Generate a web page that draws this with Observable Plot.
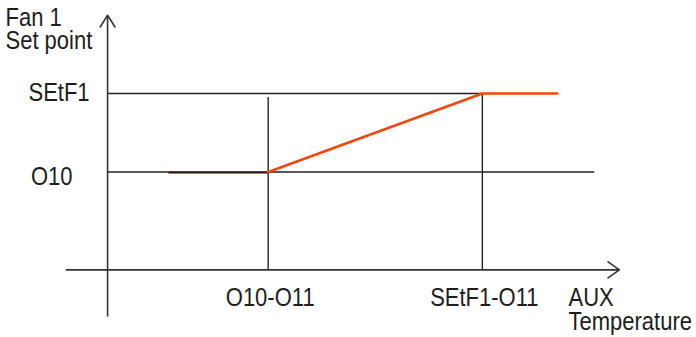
<!DOCTYPE html>
<html>
<head>
<meta charset="utf-8">
<script src="https://cdn.jsdelivr.net/npm/d3@7"></script>
<script src="https://cdn.jsdelivr.net/npm/@observablehq/plot@0.6"></script>
<style>
  html, body { margin: 0; padding: 0; background: #fff; }
  #chart svg { display: block; }
</style>
</head>
<body>
<div id="chart"></div>
<script>
// Tick labels and their positions on the (unitless) axes
const xTickLabels = ["O10-O11", "SEtF1-O11"];
const xTickValues = [3, 7];
const yTickLabels = ["SEtF1", "O10"];
const yTickValues = [9, 5];

// Set-point curve (Fan 1 set point vs AUX temperature)
const curveX = [3, 7, 8.4];
const curveY = [5, 9, 9];
// dark lead-in segment along O10
const leadX = [1.15, 3];
const leadY = [5, 5];

// guide line extents
const o10GuideEnd = 9.1;
const setf1GuideEnd = 7;
const leftGuideTop = 8.8;

const yTitleLines = ["Fan 1", "Set point"];
const xTitleLines = ["AUX", "Temperature"];

const xDomain = [-2, 11];
const yDomain = [-3.45, 13.75];
const xAxisStart = -0.77, xAxisEnd = 9.56;
const yAxisStart = -2.35, yAxisEnd = 13;
const xTitleX = 8.61;

const orange = "#f0480c";
const leadColor = "#3a1206";
const axisColor = "#333";
const guideColor = "#222";
const textColor = "#1e1e1e";
const font = "'Liberation Sans', Arial, sans-serif";
const textStretch = 1.14; // glyphs in the reference are taller than wide

const ticksX = xTickLabels.map((label, i) => ({label, value: xTickValues[i]}));
const ticksY = yTickLabels.map((label, i) => ({label, value: yTickValues[i]}));
const curve = curveX.map((x, i) => ({x, y: curveY[i]}));
const lead = leadX.map((x, i) => ({x, y: leadY[i]}));

const txt = {fontSize: 22, fill: textColor, fontFamily: font};

const chart = Plot.plot({
  width: 696,
  height: 337,
  margin: 0,
  style: {fontFamily: font, background: "#fff", overflow: "visible"},
  x: {domain: xDomain, axis: null},
  y: {domain: yDomain, axis: null},
  marks: [
    // horizontal guide lines
    Plot.ruleY([yTickValues[1]], {x1: 0, x2: o10GuideEnd, stroke: guideColor, strokeWidth: 1.4}),
    Plot.ruleY([yTickValues[0]], {x1: 0, x2: setf1GuideEnd, stroke: guideColor, strokeWidth: 1.4}),
    // vertical guide lines
    Plot.ruleX([xTickValues[0]], {y1: 0, y2: leftGuideTop, stroke: guideColor, strokeWidth: 1.4}),
    Plot.ruleX([xTickValues[1]], {y1: 0, y2: yTickValues[0], stroke: guideColor, strokeWidth: 1.4}),
    // axes with arrow heads
    Plot.arrow([{x1: xAxisStart, x2: xAxisEnd, y1: 0, y2: 0}], {
      x1: "x1", x2: "x2", y1: "y1", y2: "y2",
      stroke: axisColor, strokeWidth: 1.6, headLength: 13, headAngle: 70, insetEnd: 0, insetStart: 0
    }),
    Plot.arrow([{x1: 0, x2: 0, y1: yAxisStart, y2: yAxisEnd}], {
      x1: "x1", x2: "x2", y1: "y1", y2: "y2",
      stroke: axisColor, strokeWidth: 1.6, headLength: 13, headAngle: 64, insetEnd: 0, insetStart: 0
    }),
    // set point curve
    Plot.line(lead, {x: "x", y: "y", stroke: leadColor, strokeWidth: 1.8, dy: 0.6}),
    Plot.line(curve, {x: "x", y: "y", stroke: orange, strokeWidth: 2.6, strokeLinejoin: "round"}),
    // y tick labels
    Plot.text(ticksY.slice(0, 1), {x: 0, y: "value", text: "label", textAnchor: "end", dx: -18, dy: -1, ...txt}),
    Plot.text(ticksY.slice(1), {x: 0, y: "value", text: "label", textAnchor: "end", dx: -35, dy: 4.5, ...txt}),
    // x tick labels
    Plot.text(ticksX, {x: "value", y: 0, text: "label", lineAnchor: "top", dx: 2, dy: 19, ...txt}),
    // axis titles (one line each)
    Plot.text([yTitleLines[0]], {frameAnchor: "top-left", textAnchor: "start", lineAnchor: "top", dx: 5, dy: 8.8, ...txt}),
    Plot.text([yTitleLines[1]], {frameAnchor: "top-left", textAnchor: "start", lineAnchor: "top", dx: 5, dy: 31.8, ...txt}),
    Plot.text([xTitleLines[0]], {x: xTitleX, y: 0, textAnchor: "start", lineAnchor: "top", dy: 19.4, ...txt}),
    Plot.text([xTitleLines[1]], {x: xTitleX, y: 0, textAnchor: "start", lineAnchor: "top", dy: 43.9, ...txt})
  ]
});
document.getElementById("chart").append(chart);

// stretch text vertically about its own centre
const svgTop = chart.getBoundingClientRect().top;
chart.querySelectorAll("text").forEach(t => {
  const parent = t.parentNode;
  const r = t.getBoundingClientRect();
  const ctm = parent.getCTM();
  const cy = r.top + r.height / 2 - svgTop - (ctm ? ctm.f : 0);
  const g = document.createElementNS("http://www.w3.org/2000/svg", "g");
  g.setAttribute("transform", `translate(0,${cy}) scale(1,${textStretch}) translate(0,${-cy})`);
  parent.insertBefore(g, t);
  g.appendChild(t);
});
</script>
</body>
</html>
